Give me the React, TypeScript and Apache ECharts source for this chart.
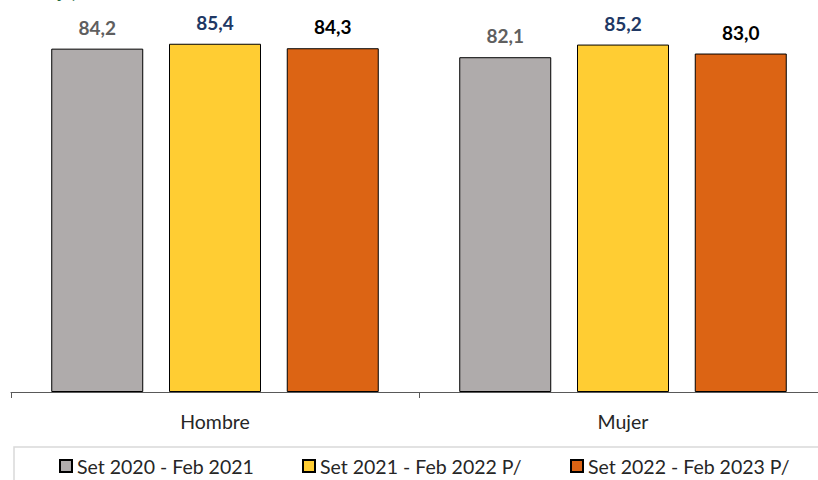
import React, { useEffect, useRef } from "react";
import * as echarts from "echarts";

const categories = ["Hombre", "Mujer"];
const seriesNames = ["Set 2020 - Feb 2021", "Set 2021 - Feb 2022 P/", "Set 2022 - Feb 2023 P/"];
const values2020 = [84.2, 82.1];
const values2021 = [85.4, 85.2];
const values2022 = [84.3, 83.0];
const barColors = ["#AFABAB", "#FFCD33", "#DC6414"];
const labelColors = ["#5F5F5F", "#203864", "#000000"];
const legendLefts = [59, 302, 570];

const FONT = "Lato";

export default function App() {
  const ref = useRef<HTMLDivElement>(null);
  useEffect(() => {
    document.body.style.margin = "0";
    document.body.style.overflow = "hidden";
    const chart = echarts.init(ref.current!, null, { renderer: "svg" });
    const allValues = [values2020, values2021, values2022];
    chart.setOption({
      animation: false,
      textStyle: { fontFamily: FONT },
      grid: { left: 11, width: 816, top: 25, height: 367, containLabel: false },
      xAxis: {
        type: "category",
        data: categories,
        axisLine: { show: true, lineStyle: { color: "#595959", width: 1 } },
        axisTick: { show: true, length: 6, lineStyle: { color: "#595959" } },
        axisLabel: { fontSize: 19.5, color: "#262626", margin: 19, fontFamily: FONT },
      },
      yAxis: {
        type: "value",
        min: 0,
        max: 90,
        show: false,
        splitLine: { show: false },
      },
      legend: seriesNames.map((n, i) => ({
        data: [n],
        left: legendLefts[i],
        top: 456,
        padding: 0,
        icon: "rect",
        itemWidth: 12,
        itemHeight: 12,
        itemGap: 3,
        textStyle: { fontSize: 19.5, color: "#262626", fontFamily: FONT },
      })),
      graphic: [
        {
          type: "rect",
          shape: { x: 14, y: 447, width: 830, height: 60 },
          style: { fill: "none", stroke: "#D9D9D9", lineWidth: 1.5 },
        },
        {
          type: "text",
          x: 77,
          y: -9,
          style: {
            text: "(Porcentaje)",
            align: "right",
            verticalAlign: "middle",
            fill: "#1E6B3C",
            font: `bold 18px ${FONT}`,
          },
        },
      ],
      series: seriesNames.map((n, i) => ({
        name: n,
        type: "bar",
        data: allValues[i],
        barWidth: 92,
        barGap: "28%",
        itemStyle: { color: barColors[i], borderColor: "#000", borderWidth: 1 },
        label: {
          show: true,
          position: "top",
          distance: 12,
          fontSize: 19,
          fontWeight: "bold",
          color: labelColors[i],
          fontFamily: FONT,
          formatter: (p: any) => p.value.toFixed(1).replace(".", ","),
        },
      })),
    });
    return () => chart.dispose();
  }, []);
  return <div ref={ref} style={{ width: 840, height: 480 }} />;
}
